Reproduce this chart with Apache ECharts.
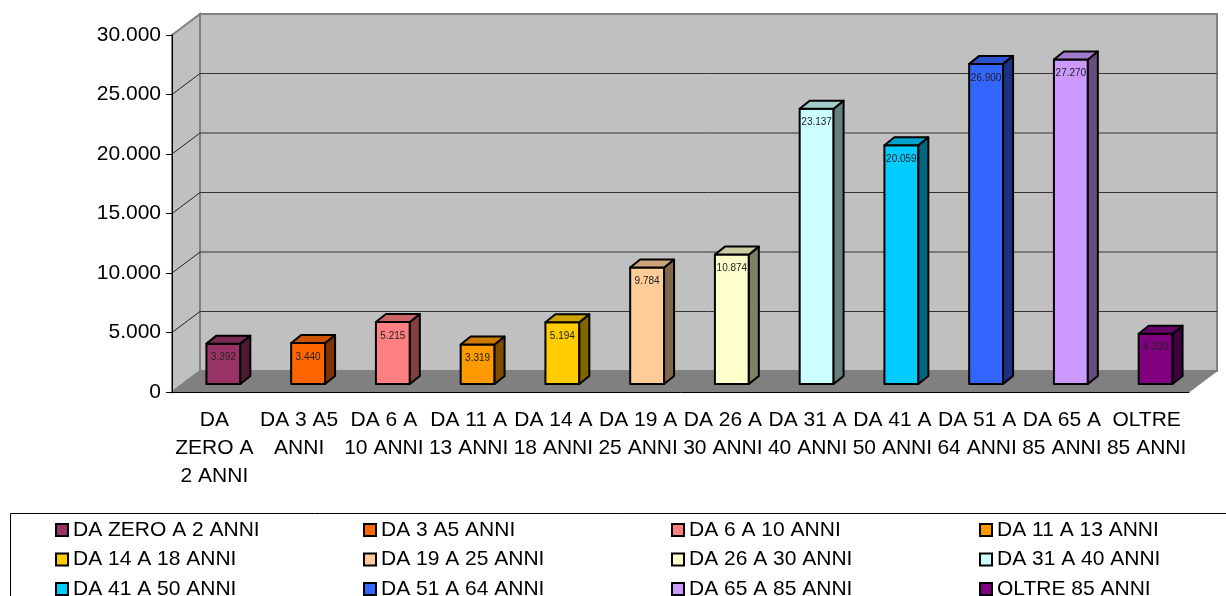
<!DOCTYPE html>
<html><head><meta charset="utf-8">
<script src="https://cdn.jsdelivr.net/npm/echarts@6/dist/echarts.min.js"></script>
<style>html,body{margin:0;padding:0;background:#fff}#c{width:1226px;height:596px}</style>
</head><body><div id="c"></div>
<script>
const categories = ['DA ZERO A 2 ANNI','DA 3 A5 ANNI','DA 6 A 10 ANNI','DA 11 A 13 ANNI','DA 14 A 18 ANNI','DA 19 A 25 ANNI','DA 26 A 30 ANNI','DA 31 A 40 ANNI','DA 41 A 50 ANNI','DA 51 A 64 ANNI','DA 65 A 85 ANNI','OLTRE 85 ANNI'];
const axisLabels = ['DA\nZERO A\n2 ANNI','DA 3 A5\nANNI','DA 6 A\n10 ANNI','DA 11 A\n13 ANNI','DA 14 A\n18 ANNI','DA 19 A\n25 ANNI','DA 26 A\n30 ANNI','DA 31 A\n40 ANNI','DA 41 A\n50 ANNI','DA 51 A\n64 ANNI','DA 65 A\n85 ANNI','OLTRE\n85 ANNI'];
const values = [3392,3440,5215,3319,5194,9784,10874,23137,20059,26900,27270,4230];
const yTicks = [0,5000,10000,15000,20000,25000,30000];
const frontColors = ['#993366','#FF6600','#FF8080','#FF9900','#FFCC00','#FFCC99','#FFFFCC','#CCFFFF','#00CCFF','#3366FF','#CC99FF','#800080'];
const sideColors  = ['#4D1A33','#803300','#804040','#804D00','#806600','#80664D','#808066','#668080','#006680','#1A3380','#664D80','#400040'];
const topColors   = ['#7A2952','#CC5200','#CC6666','#CC7A00','#CCA300','#CCA37A','#CCCCA3','#A3CCCC','#00A3CC','#2952CC','#A37ACC','#660066'];

const FONT = '"Liberation Sans", Arial, sans-serif';
const fmt = v => String(v).replace(/\B(?=(\d{3})+(?!\d))/g, '.');
const DX = 28, DY = -21;

function renderWalls(params, api) {
  const cs = params.coordSys;
  const x0 = cs.x, y0 = cs.y, w = cs.width, h = cs.height;
  const ch = [];
  ch.push({type:'polygon', shape:{points:[[x0,y0],[x0+DX,y0+DY],[x0+DX,y0+h+DY],[x0,y0+h]]},
    style:{fill:'#C0C0C0', stroke:'#808080', lineWidth:2}});
  ch.push({type:'rect', shape:{x:x0+DX, y:y0+DY, width:w, height:h},
    style:{fill:'#C0C0C0', stroke:'#808080', lineWidth:2}});
  ch.push({type:'polygon', shape:{points:[[x0,y0+h],[x0+w,y0+h],[x0+w+DX,y0+h+DY],[x0+DX,y0+h+DY]]},
    style:{fill:'#808080', stroke:'#808080', lineWidth:1}});
  yTicks.forEach(v => {
    if (v === 0 || v === yTicks[yTicks.length-1]) return;
    const y = api.coord([0, v])[1];
    ch.push({type:'line', shape:{x1:x0, y1:y, x2:x0+DX, y2:y+DY}, style:{stroke:'#222', lineWidth:1}});
    ch.push({type:'line', shape:{x1:x0+DX, y1:y+DY, x2:x0+w+DX, y2:y+DY}, style:{stroke:'#333', lineWidth:1}});
  });
  return {type:'group', children:ch};
}

function makeBar(i) {
  return function(params, api) {
    const base = api.coord([i, 0]);
    const top = api.coord([i, api.value(1)]);
    const bw = api.size([1, 0])[0] * 0.40;
    const ox = 9, oy = -8, dx = 10, dy = -8;
    const l = base[0] - bw/2 + ox, r = base[0] + bw/2 + ox;
    const b = base[1] + oy, t = top[1] + oy;
    const st = {stroke:'#000', lineWidth:2, lineJoin:'round'};
    return {type:'group', children:[
      {type:'rect', shape:{x:l, y:t, width:r-l, height:b-t}, style:Object.assign({fill:frontColors[i]}, st)},
      {type:'text', style:{text:fmt(values[i]), x:(l+r)/2, y:t+14, align:'center', verticalAlign:'middle', fontSize:10, fontFamily:FONT, fill:'#222'}},
      {type:'polygon', shape:{points:[[r,t],[r+dx,t+dy],[r+dx,b+dy],[r,b]]}, style:Object.assign({fill:sideColors[i]}, st)},
      {type:'polygon', shape:{points:[[l,t],[r,t],[r+dx,t+dy],[l+dx,t+dy]]}, style:Object.assign({fill:topColors[i]}, st)}
    ]};
  };
}

const series = [{
  type:'custom', name:'walls', z:-1, silent:true, data:[[0,0]], renderItem:renderWalls
}];
categories.forEach((c, i) => {
  series.push({type:'custom', name:c, data:[[i, values[i]]], itemStyle:{color:frontColors[i]}, renderItem:makeBar(i), silent:true});
});

const legends = categories.map((c, i) => ({
  orient:'horizontal', left: 55 + (i % 4) * 308, top: 519 + Math.floor(i / 4) * 29.5,
  itemWidth:12, itemHeight:12, itemGap:8, icon:'rect', padding:0,
  data:[c],
  textStyle:{fontSize:21, color:'#000', fontFamily:FONT, lineHeight:22},
  itemStyle:{borderColor:'#000', borderWidth:2},
  selectedMode:false
}));

const chart = echarts.init(document.getElementById('c'), null, {renderer:'canvas'});
chart.setOption({
  animation:false,
  backgroundColor:'#fff',
  grid:{left:172, top:35, width:1017, height:357, containLabel:false},
  xAxis:{type:'category', data:axisLabels,
    axisLine:{lineStyle:{color:'#000', width:1}},
    axisTick:{length:6, lineStyle:{color:'#000'}},
    axisLabel:{interval:0, margin:14, fontSize:21, lineHeight:28, color:'#000', fontFamily:FONT},
    splitLine:{show:false}},
  yAxis:{type:'value', min:0, max:30000, interval:5000,
    axisLine:{show:true, lineStyle:{color:'#000', width:1}},
    axisTick:{show:true, length:6, lineStyle:{color:'#000'}},
    axisLabel:{margin:11, fontSize:21, color:'#000', fontFamily:FONT, formatter:v => fmt(v)},
    splitLine:{show:false}},
  legend:legends,
  graphic:[{type:'rect', left:8, top:511, shape:{width:1240, height:100}, style:{fill:'none', stroke:'#000', lineWidth:1}, z:-10}],
  series:series
});
</script></body></html>
